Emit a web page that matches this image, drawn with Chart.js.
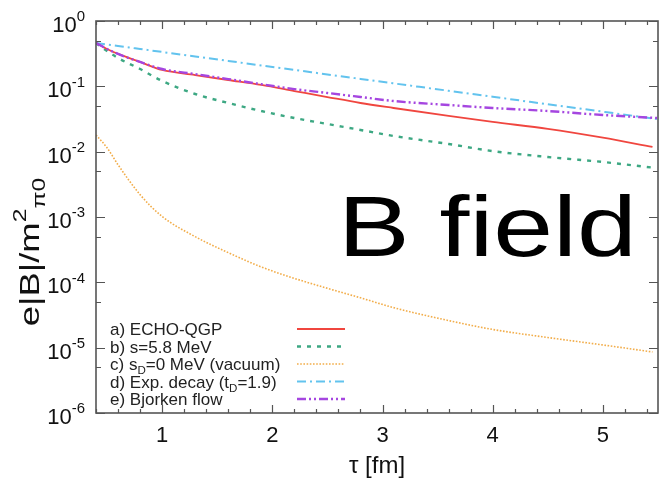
<!DOCTYPE html>
<html><head><meta charset="utf-8">
<script src="https://cdn.jsdelivr.net/npm/chart.js@4.4.1/dist/chart.umd.min.js"></script>
<style>html,body{margin:0;padding:0;background:#fff}canvas{display:block}</style>
</head><body>
<canvas id="c" width="659" height="482"></canvas>
<script>
// ---- data ----
const tau     = [0.4,0.5,0.6,0.8,1.0,1.3,1.6,1.9,2.2,2.5,2.8,3.1,3.6,4.0,4.5,5.0,5.45];
const tauFull = [0.4,0.5,0.6,0.8,1.0,1.3,1.6,1.9,2.2,2.5,2.8,3.1,3.6,4.0,4.5,5.0,5.5];
const echoQGP  = [0.46,0.373,0.313,0.236,0.178,0.149,0.125,0.105,0.0848,0.0685,0.0556,0.0466,0.0352,0.0285,0.0224,0.0164,0.0118];
const sigma58  = [0.46,0.347,0.271,0.184,0.121,0.0763,0.0556,0.0419,0.0327,0.0265,0.0215,0.0174,0.0131,0.0102,0.00828,0.00695,0.0057];
const vacuum   = [0.018,0.0115,0.0063,0.0022,0.00102,0.0005,0.000285,0.000172,0.000115,0.000081,0.000058,0.000041,0.000026,0.0000190,0.0000143,0.0000110,0.0000086];
const expDecay = [0.46,0.436,0.414,0.373,0.336,0.287,0.245,0.209,0.179,0.152,0.130,0.111,0.0855,0.0692,0.0532,0.0409,0.0315];
const bjorken  = [0.46,0.373,0.313,0.236,0.184,0.154,0.129,0.108,0.0907,0.0791,0.0687,0.0596,0.0518,0.0466,0.0419,0.0364,0.0327];
const seriesLabels = ['a) ECHO-QGP','b) s=5.8 MeV','c) s_D=0 MeV (vacuum)','d) Exp. decay (t_D=1.9)','e) Bjorken flow'];
const xTickValues = [1,2,3,4,5];
const yTickExponents = [0,-1,-2,-3,-4,-5,-6];
const xTitle = 'τ [fm]';
const annotation = 'B field';

// ---- styles ----
const FAM = '"Liberation Sans", Arial, Helvetica, sans-serif';
const styles = [
  {color:'#f0463f', dash:[], width:1.8, xs:tau, ys:echoQGP, order:1},
  {color:'#3da883', dash:[4,6], width:2.4, xs:tau, ys:sigma58, order:1},
  {color:'#f2ad4a', dash:[1.6,1.6], width:1.6, xs:tau, ys:vacuum, order:1},
  {color:'#62c3ee', dash:[9,4,2,4], width:2, xs:tauFull, ys:expDecay, order:1},
  {color:'#a546e0', dash:[9,3,2,3,2,3], width:2.4, xs:tauFull, ys:bjorken, order:0}
];

const datasets = styles.map((s,i)=>({
  label: seriesLabels[i],
  data: s.xs.map((x,j)=>({x:x, y:s.ys[j]})),
  borderColor: s.color, borderDash: s.dash, borderWidth: s.width,
  fill:false, pointRadius:0, order:s.order,
  cubicInterpolationMode:'monotone'
}));

function drawRich(ctx, parts, x, y, size, align){
  let w = 0;
  const ms = parts.map(([t,m])=>{
    const fs = m ? size*0.68 : size;
    ctx.font = fs+'px '+FAM;
    const ww = ctx.measureText(t).width; w += ww;
    return {t,m,fs,ww};
  });
  let cx = align==='right' ? x-w : align==='center' ? x-w/2 : x;
  ctx.textAlign='left'; ctx.textBaseline='alphabetic';
  for (const p of ms){
    ctx.font = p.fs+'px '+FAM;
    const dy = p.m===1 ? -size*0.48 : p.m===-1 ? size*0.24 : 0;
    ctx.fillText(p.t, cx, y+dy);
    cx += p.ww;
  }
  return w;
}
function parseSub(s){
  const parts=[]; let buf='';
  for(let i=0;i<s.length;i++){
    if(s[i]==='_' && i+1<s.length){ if(buf){parts.push([buf,0]);buf='';} parts.push([s[i+1],-1]); i++; }
    else buf+=s[i];
  }
  if(buf) parts.push([buf,0]);
  return parts;
}

const gnuplotDecor = {
  id:'gnuplotDecor',
  afterDraw(chart){
    const ctx = chart.ctx, a = chart.chartArea;
    const xs = chart.scales.x, ys = chart.scales.y;
    ctx.save();
    // frame
    ctx.strokeStyle='#555'; ctx.lineWidth=1.6;
    ctx.strokeRect(a.left, a.top, a.right-a.left, a.bottom-a.top);
    ctx.lineWidth=1.2;
    ctx.beginPath();
    for(let k=2;k<=27;k++){
      const v=k*0.2; const px=Math.round(xs.getPixelForValue(v))+0.5;
      const major = Math.abs(v-Math.round(v))<1e-6;
      const L = major?8:4;
      ctx.moveTo(px,a.bottom); ctx.lineTo(px,a.bottom-L);
      ctx.moveTo(px,a.top); ctx.lineTo(px,a.top+L);
    }
    for(const e of yTickExponents){
      const py=Math.round(ys.getPixelForValue(Math.pow(10,e)))+0.5;
      ctx.moveTo(a.left,py); ctx.lineTo(a.left+9,py);
      ctx.moveTo(a.right,py); ctx.lineTo(a.right-9,py);
      if(e<0){
        const pm=Math.round(ys.getPixelForValue(5*Math.pow(10,e)))+0.5;
        ctx.moveTo(a.left,pm); ctx.lineTo(a.left+5,pm);
        ctx.moveTo(a.right,pm); ctx.lineTo(a.right-5,pm);
      }
    }
    ctx.stroke();
    // tick labels
    ctx.fillStyle='#111';
    ctx.font='22px '+FAM; ctx.textAlign='center'; ctx.textBaseline='alphabetic';
    for(const v of xTickValues){
      ctx.fillText(String(v), xs.getPixelForValue(v), 442);
    }
    for(const e of yTickExponents){
      const py=ys.getPixelForValue(Math.pow(10,e));
      drawRich(ctx, [['10',0],[String(e),1]], 85, py+11, 22, 'right');
    }
    // axis titles
    ctx.font='24px '+FAM; ctx.textAlign='center';
    ctx.fillText(xTitle, (a.left+a.right)/2, 473);
    ctx.save();
    ctx.translate(39, 252); ctx.rotate(-Math.PI/2); ctx.scale(1.35, 1);
    drawRich(ctx, [['e|B|/m',0],['2',1],['π0',-1]], 0, 0, 27, 'center');
    ctx.restore();
    // legend
    const y0=329, dy=17.5;
    chart.data.datasets.forEach((ds,i)=>{
      const cy=y0+i*dy;
      ctx.fillStyle='#222';
      drawRich(ctx, parseSub(ds.label), 110, cy+6, 17, 'left');
      ctx.strokeStyle=ds.borderColor; ctx.lineWidth=ds.borderWidth;
      ctx.setLineDash(ds.borderDash);
      ctx.beginPath(); ctx.moveTo(297,cy); ctx.lineTo(345,cy); ctx.stroke();
      ctx.setLineDash([]);
    });
    // annotation (horizontally widened)
    ctx.save();
    ctx.fillStyle='#000'; ctx.font='86px '+FAM; ctx.textAlign='left';
    ctx.translate(338, 256); ctx.scale(1.25, 1);
    ctx.fillText(annotation, 0, 0);
    ctx.restore();
    ctx.restore();
  }
};

new Chart(document.getElementById('c'), {
  type:'line',
  data:{datasets},
  options:{
    responsive:false, animation:false, devicePixelRatio:1,
    layout:{padding:{left:96, top:21, right:1, bottom:69}},
    plugins:{legend:{display:false}, tooltip:{enabled:false}},
    scales:{
      x:{type:'linear', min:0.4, max:5.5, display:false},
      y:{type:'logarithmic', min:1e-6, max:1, display:false}
    }
  },
  plugins:[gnuplotDecor]
});
</script>
</body></html>
